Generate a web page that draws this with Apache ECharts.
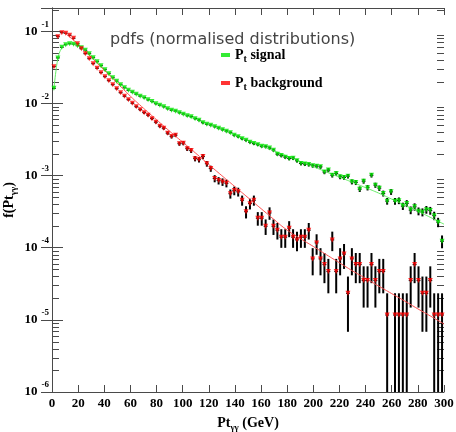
<!DOCTYPE html>
<html>
<head>
<meta charset="utf-8">
<script src="https://cdn.jsdelivr.net/npm/echarts@6/dist/echarts.min.js"></script>
<style>
html, body { margin: 0; padding: 0; background: #fff; }
#pdfs { width: 456px; height: 432px; }
</style>
</head>
<body>
<div id="pdfs"></div>
<script>
// Binning (GeV)
const binWidth = 3

// Background: entries per 3 GeV bin (normalised by the total when drawn)
const backgroundCounts = [
  2767, 7198, 8180, 8054, 7553, 6866, 5758, 4909, 4186, 3570,
  3043, 2636, 2284, 2011, 1770, 1558, 1371, 1207, 1080, 966,
  864, 772, 702, 638, 589, 527, 471, 415, 389, 332,
  297, 311, 237, 241, 202, 190, 147, 142, 157, 125,
  107, 78, 73, 70, 67, 48, 53, 51, 39, 27,
  35, 39, 22, 22, 17, 26, 17, 15, 12, 12,
  16, 12, 11, 12, 12, 15, 6, 10, 6, 5,
  4, 11, 4, 6, 7, 2, 6, 5, 5, 3,
  3, 5, 3, 4, 4, 1, 0, 1, 1, 1,
  1, 3, 5, 3, 2, 2, 3, 1, 1, 1,
]

// Signal: normalised content per bin
const signalValues = [
  0.0162, 0.0427, 0.0600, 0.0650, 0.0671, 0.0660, 0.0630, 0.0591, 0.0546, 0.0488,
  0.0430, 0.0378, 0.0333, 0.0293, 0.0258, 0.0227, 0.0203, 0.0182, 0.0165, 0.0152,
  0.0143, 0.0134, 0.0126, 0.0120, 0.0112, 0.0106, 0.00990, 0.00944, 0.00900, 0.00845,
  0.00805, 0.00780, 0.00743, 0.00708, 0.00675, 0.00654, 0.00614, 0.00585, 0.00540, 0.00515,
  0.00499, 0.00476, 0.00453, 0.00432, 0.00412, 0.00393, 0.00363, 0.00346, 0.00324, 0.00309,
  0.00290, 0.00277, 0.00268, 0.00255, 0.00251, 0.00240, 0.00225, 0.00198, 0.00189, 0.00180,
  0.00172, 0.00174, 0.00160, 0.00147, 0.00144, 0.00142, 0.00137, 0.00135, 0.00132, 0.00112,
  0.00119, 0.00101, 0.00107, 0.000959, 0.000941, 0.000981, 0.000818, 0.000802, 0.000648, 0.000836,
  0.000680, 0.00101, 0.000736, 0.000669, 0.000565, 0.000442, 0.000594, 0.000442, 0.000449, 0.000377,
  0.000411, 0.000332, 0.000369, 0.000321, 0.000311, 0.000337, 0.000327, 0.000278, 0.000226, 0.000123,
]
const signalEntries = 200000

// Fit curves
const signalFitPt = [1.5, 3, 4.5, 6, 8, 10, 12.5, 15, 20, 25, 30, 35, 40, 45, 50, 55, 60, 70, 80, 90,
  100, 110, 120, 130, 140, 150, 160, 170, 180, 190, 200, 210, 220, 230, 240, 250, 260, 270, 280, 290, 300]
const signalFitValues = [0.01624, 0.02793, 0.04160, 0.05200, 0.06003, 0.06400, 0.06605, 0.06605, 0.06199, 0.05457,
  0.04578, 0.03720, 0.02977, 0.02418, 0.01998, 0.01703, 0.01476, 0.01199, 0.00990, 0.00831,
  0.00708, 0.00604, 0.00510, 0.00432, 0.00363, 0.00307, 0.00259, 0.00220, 0.00186, 0.00157,
  0.00133, 0.00112, 0.000950, 0.000805, 0.000680, 0.000571, 0.000471, 0.000389, 0.000321, 0.000261, 0.000212]

const backgroundFitPt = [10, 20, 30, 40, 50, 60, 70, 80, 90, 100, 110, 120, 130, 140, 150, 160, 170, 180,
  190, 200, 210, 220, 230, 240, 250, 260, 270, 280, 290, 300]
const backgroundFitValues = [0.0938, 0.0660, 0.0436, 0.0288, 0.0191, 0.01259, 0.00858, 0.00594, 0.00412, 0.00290,
  0.00204, 0.00142, 0.000997, 0.000702, 0.000494, 0.000348, 0.000245, 0.000175,
  0.000134, 0.000104, 0.0000800, 0.0000618, 0.0000477, 0.0000376, 0.0000294, 0.0000231, 0.0000182,
  0.0000142, 0.0000112, 0.00000874]

// Axis ranges
const ptMin = 0
const ptMax = 300
const ptStep = 20
const yMin = 1e-6
const yMax = 0.21

const axisColor = '#4a4a4a'
const serif = 'Liberation Serif'

const bgTotal = backgroundCounts.reduce((a, b) => a + b, 0)

const backgroundPoints = []
const backgroundBars = []
backgroundCounts.forEach((n, i) => {
  if (n <= 0) return
  const x = (i + 0.5) * binWidth
  const v = n / bgTotal
  const e = Math.sqrt(n) / bgTotal
  backgroundPoints.push([x, v])
  backgroundBars.push([x, v - e, v + e, v])
})

const signalPoints = []
const signalBars = []
signalValues.forEach((v, i) => {
  const x = (i + 0.5) * binWidth
  const e = Math.sqrt(v / signalEntries)
  signalPoints.push([x, v])
  signalBars.push([x, v - e, v + e, v])
})

// log minor ticks 2..9 x 10^n
const minorTicks = []
for (let p = -6; p <= -1; p++) {
  for (let m = 2; m <= 9; m++) {
    const v = m * Math.pow(10, p)
    if (v < yMax) minorTicks.push([ptMin, v])
  }
}

function renderErrorBar(params, api) {
  const x = api.value(0)
  const lo = Math.max(api.value(1), yMin)
  const hi = api.value(2)
  const c = api.value(3)
  const top = api.coord([x, hi])
  const bottom = api.coord([x, lo])
  const left = api.coord([x - binWidth / 2, c])
  const right = api.coord([x + binWidth / 2, c])
  return {
    type: 'group',
    children: [
      { type: 'line', shape: { x1: top[0], y1: top[1], x2: bottom[0], y2: bottom[1] }, style: { stroke: '#000', lineWidth: 2 } },
      { type: 'line', shape: { x1: left[0], y1: left[1], x2: right[0], y2: right[1] }, style: { stroke: '#000', lineWidth: 1 } },
    ],
  }
}

function renderMinorTick(params, api) {
  const y = Math.round(api.coord([ptMin, api.value(1)])[1]) + 0.5
  const x0 = params.coordSys.x
  const x1 = params.coordSys.x + params.coordSys.width
  return {
    type: 'group',
    children: [
      { type: 'line', shape: { x1: x0, y1: y, x2: x0 + 7, y2: y }, style: { stroke: axisColor, lineWidth: 1 } },
      { type: 'line', shape: { x1: x1 - 7, y1: y, x2: x1, y2: y }, style: { stroke: axisColor, lineWidth: 1 } },
    ],
  }
}

function decadeLabel(value) {
  const p = Math.round(Math.log10(value))
  if (Math.abs(Math.log10(value) - p) > 1e-6) return ''
  return '{b|10}{s|' + p + '}'
}

const labelRich = {
  b: { fontFamily: serif, fontWeight: 'bold', fontSize: 13, color: '#000' },
  s: { fontFamily: serif, fontWeight: 'bold', fontSize: 9, color: '#000', padding: [0, 0, 14, 4] },
}

const chart = echarts.init(document.getElementById('pdfs'))

chart.setOption({
  animation: false,
  backgroundColor: '#fff',
  title: {
    text: 'pdfs (normalised distributions)',
    left: 105,
    top: 27,
    textStyle: { fontFamily: 'DejaVu Sans', fontWeight: 'normal', fontSize: 16, color: '#444' },
  },
  legend: {
    orient: 'vertical',
    left: 216,
    top: 43,
    itemGap: 12,
    itemWidth: 9,
    itemHeight: 4,
    icon: 'rect',
    data: ['signal', 'background'],
    formatter: (name) => '{p|P}{t|t}{n| ' + name + '}',
    textStyle: {
      rich: {
        p: { fontFamily: serif, fontWeight: 'bold', fontSize: 14, color: '#000' },
        t: { fontFamily: serif, fontWeight: 'bold', fontSize: 10, color: '#000', padding: [8, 0, 0, 0] },
        n: { fontFamily: serif, fontWeight: 'bold', fontSize: 14, color: '#000' },
      },
    },
  },
  grid: { left: 52, right: 12, top: 8, bottom: 40, outerBoundsMode: 'none' },
  xAxis: [{
    type: 'value',
    min: ptMin,
    max: ptMax,
    interval: ptStep,
    position: 'bottom',
    axisLine: { lineStyle: { color: axisColor } },
    axisTick: { inside: true, length: 7, lineStyle: { color: axisColor } },
    splitLine: { show: false },
    axisLabel: { fontFamily: serif, fontWeight: 'bold', fontSize: 13, color: '#000', margin: 5 },
    name: '{a|Pt}{s|γγ}{a| (GeV)}',
    nameLocation: 'middle',
    nameGap: 22,
    nameTextStyle: {
      rich: {
        a: { fontFamily: serif, fontWeight: 'bold', fontSize: 14, color: '#000' },
        s: { fontFamily: serif, fontWeight: 'bold', fontSize: 9, color: '#000', padding: [9, 0, 0, 0] },
      },
    },
  }, {
    type: 'value',
    min: ptMin,
    max: ptMax,
    interval: ptStep,
    position: 'top',
    axisLine: { lineStyle: { color: axisColor } },
    axisTick: { inside: true, length: 7, lineStyle: { color: axisColor } },
    splitLine: { show: false },
    axisLabel: { show: false },
  }],
  yAxis: [{
    type: 'log',
    logBase: 10,
    min: yMin,
    max: yMax,
    position: 'left',
    axisLine: { show: true, lineStyle: { color: axisColor } },
    axisTick: { show: true, inside: true, length: 11, lineStyle: { color: axisColor } },
    splitLine: { show: false },
    axisLabel: { formatter: decadeLabel, margin: 3, rich: labelRich },
    name: '{a|f(Pt}{s|γγ}{a|)}',
    nameLocation: 'middle',
    nameRotate: 90,
    nameGap: 34,
    nameMoveOverlap: false,
    nameTextStyle: {
      rich: {
        a: { fontFamily: serif, fontWeight: 'bold', fontSize: 14, color: '#000' },
        s: { fontFamily: serif, fontWeight: 'bold', fontSize: 9, color: '#000', padding: [9, 0, 0, 0] },
      },
    },
  }, {
    type: 'log',
    logBase: 10,
    min: yMin,
    max: yMax,
    position: 'right',
    axisLine: { show: true, lineStyle: { color: axisColor } },
    axisTick: { show: true, inside: true, length: 11, lineStyle: { color: axisColor } },
    splitLine: { show: false },
    axisLabel: { show: false },
  }],
  series: [{
    name: 'minor ticks',
    type: 'custom',
    silent: true,
    renderItem: renderMinorTick,
    data: minorTicks,
    z: 1,
  }, {
    name: 'signal errors',
    type: 'custom',
    silent: true,
    renderItem: renderErrorBar,
    data: signalBars,
    z: 2,
  }, {
    name: 'background errors',
    type: 'custom',
    silent: true,
    renderItem: renderErrorBar,
    data: backgroundBars,
    z: 2,
  }, {
    name: 'signal fit',
    type: 'line',
    smooth: true,
    showSymbol: false,
    silent: true,
    data: signalFitPt.map((x, i) => [x, signalFitValues[i]]),
    lineStyle: { color: '#66ee66', width: 1 },
    z: 3,
  }, {
    name: 'background fit',
    type: 'line',
    smooth: true,
    showSymbol: false,
    silent: true,
    data: backgroundFitPt.map((x, i) => [x, backgroundFitValues[i]]),
    lineStyle: { color: '#ff5050', width: 1 },
    z: 3,
  }, {
    name: 'signal',
    type: 'scatter',
    symbol: 'triangle',
    symbolRotate: 180,
    symbolSize: 5,
    itemStyle: { color: '#00e600' },
    data: signalPoints,
    z: 4,
  }, {
    name: 'background',
    type: 'scatter',
    symbol: 'triangle',
    symbolRotate: 180,
    symbolSize: 5,
    itemStyle: { color: '#ff0000' },
    data: backgroundPoints,
    z: 4,
  }],
})
</script>
</body>
</html>
